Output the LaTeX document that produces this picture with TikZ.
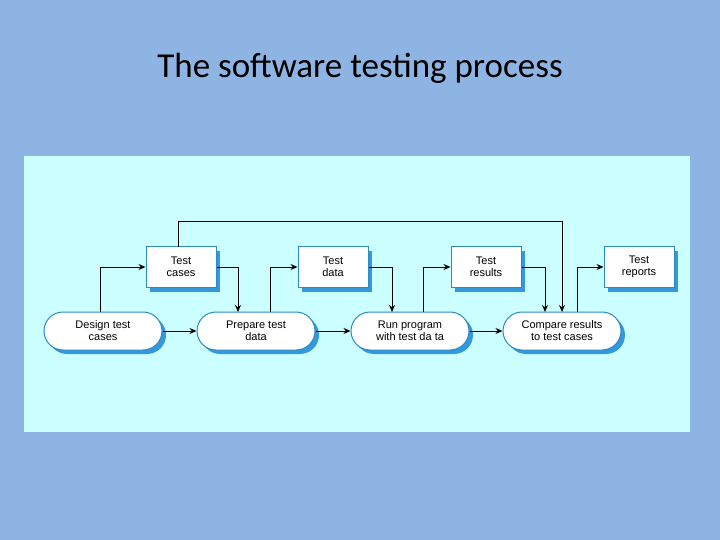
\documentclass[tikz,border=0pt]{standalone}
\usepackage{fontspec}
\setmainfont{Liberation Sans}
\newfontfamily\titlefont{Carlito}
\usetikzlibrary{arrows.meta,shadows}
\definecolor{bgblue}{HTML}{8EB4E3}
\definecolor{panel}{HTML}{CCFFFF}
\definecolor{edge}{HTML}{2E8BC0}
\definecolor{shad}{HTML}{3399DD}
\begin{document}
\begin{tikzpicture}[x=1pt,y=-1pt,
  every node/.style={font=\fontsize{11}{12}\selectfont, align=center, inner sep=0pt},
  doc/.style={draw=edge, line width=1pt, fill=white, minimum width=70pt, minimum height=41pt,
    drop shadow={shadow xshift=4pt, shadow yshift=-4pt, fill=shad, opacity=1}},
  act/.style={draw=edge, line width=1pt, fill=white, rounded corners=19pt, minimum width=118pt, minimum height=38pt,
    drop shadow={shadow xshift=4pt, shadow yshift=-4pt, fill=shad, opacity=1}},
  link/.style={draw=black, line width=1pt, -{Stealth[length=7pt,width=6pt]}}]
\fill[bgblue] (0,0) rectangle (720,540);
\fill[panel] (24,156) rectangle (690,432);
\node[font=\titlefont\fontsize{35}{40}\selectfont] (title) at (360,68) {The software testing process};
\node[doc] (tc) at (181,267) {Test\\cases};
\node[doc] (td) at (333,267) {Test\\data};
\node[doc] (tr) at (486,267) {Test\\results};
\node[doc] (rp) at (639,267) {Test\\reports};
\node[act] (dt) at (103,331) {Design test\\cases};
\node[act] (pt) at (256,331) {Prepare test\\data};
\node[act] (rn) at (410,331) {Run program\\with test da ta};
\node[act] (cr) at (562,331) {Compare results\\to test cases};
\draw[link] (dt.west -| 100,0) ++(0,0) (100,312) |- (tc.west);
\draw[link] (tc.east) -| (238,312);
\draw[link] (270,312) |- (td.west);
\draw[link] (td.east) -| (392,312);
\draw[link] (423,312) |- (tr.west);
\draw[link] (tr.east) -| (545,312);
\draw[link] (577,312) |- (rp.west);
\draw[link] (178,247) -- (178,222) -| (562,312);
\draw[link] (dt) -- (pt);
\draw[link] (pt) -- (rn);
\draw[link] (rn) -- (cr);
\end{tikzpicture}
\end{document}
